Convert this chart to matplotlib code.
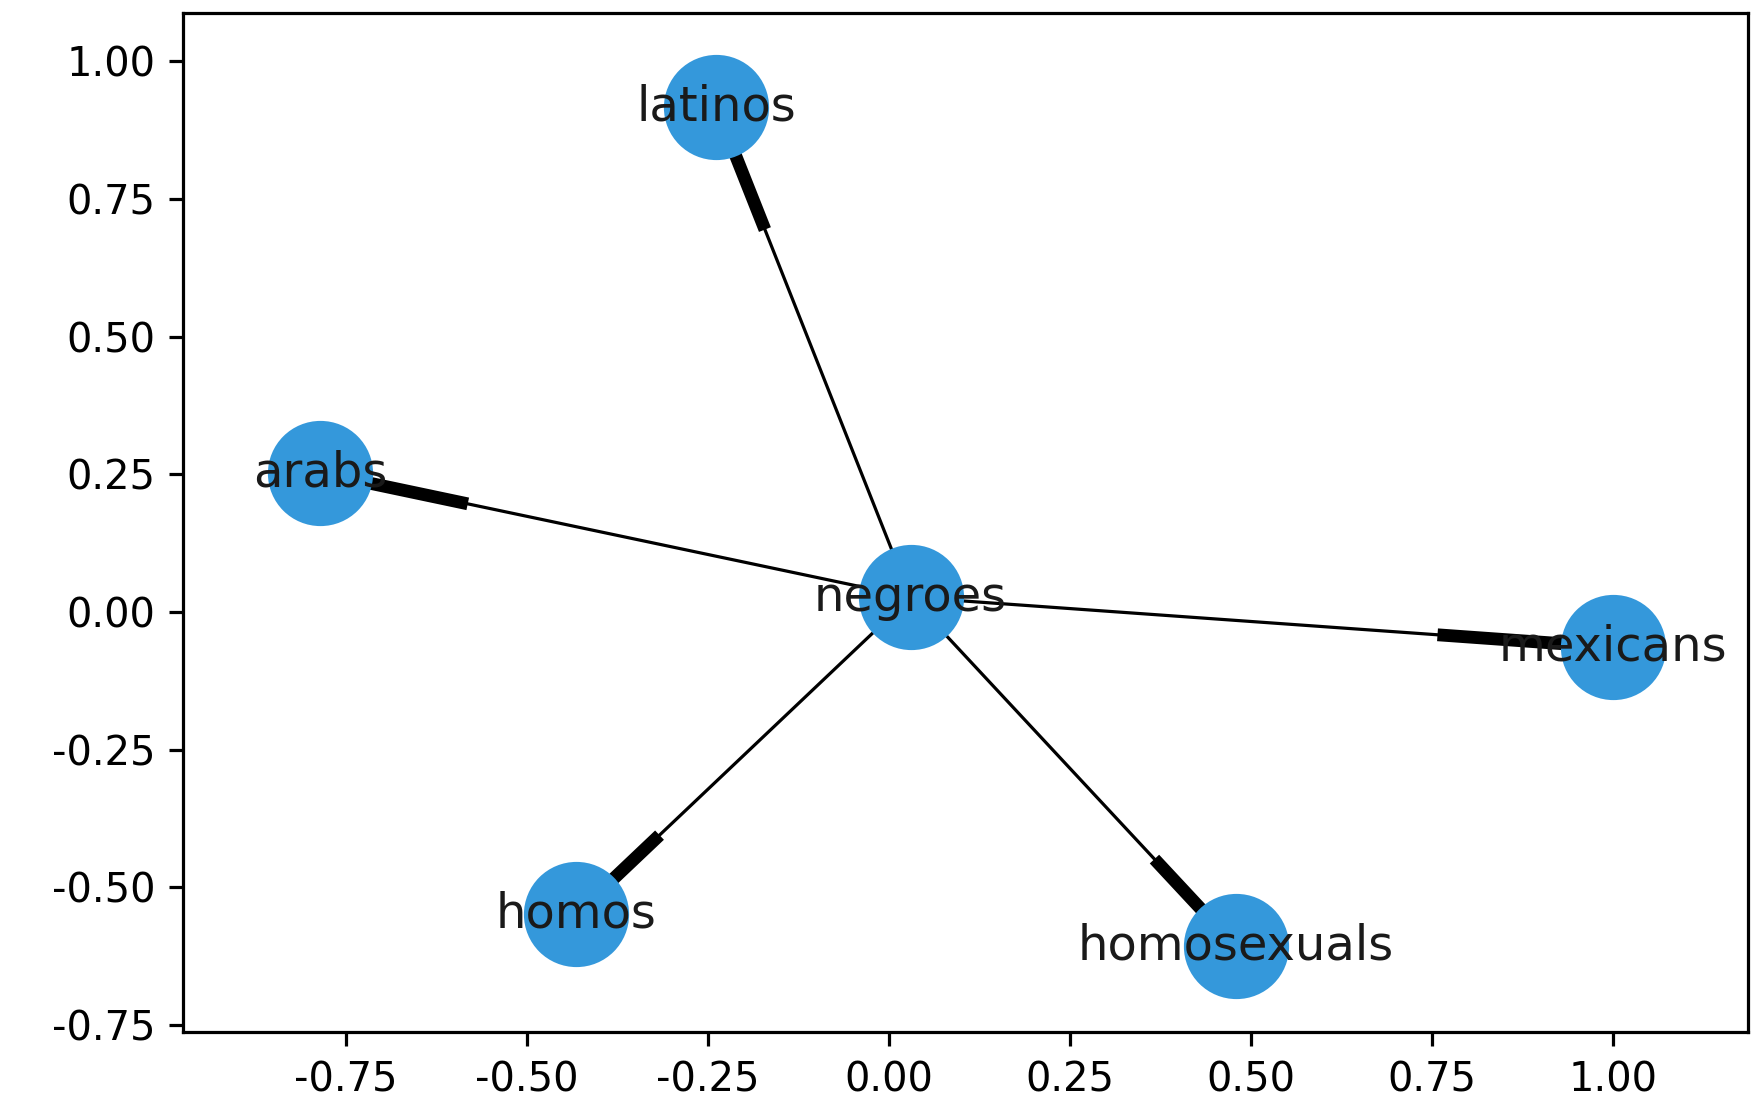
import matplotlib
matplotlib.use("Agg")
import matplotlib.pyplot as plt

# node layout
nodes = ["negroes", "latinos", "arabs", "mexicans", "homos", "homosexuals"]
xs = [0.03, -0.238, -0.785, 1.0, -0.432, 0.479]
ys = [0.027, 0.917, 0.253, -0.064, -0.549, -0.607]
edges = [("negroes", t) for t in nodes[1:]]

pos = {n: (x, y) for n, x, y in zip(nodes, xs, ys)}

fig = plt.figure(figsize=(1762 / 288, 1116 / 288), dpi=288)
ax = fig.add_axes([0.104, 0.075, 0.888, 0.913])

for s, t in edges:
    (x0, y0), (x1, y1) = pos[s], pos[t]
    ax.plot([x0, x1], [y0, y1], color="black", lw=0.8, zorder=1)
    # old-style networkx arrow: thick stub near the target
    xm, ym = x0 + 0.75 * (x1 - x0), y0 + 0.75 * (y1 - y0)
    ax.plot([xm, x1], [ym, y1], color="black", lw=3.2, zorder=1, solid_capstyle="butt")

ax.scatter(xs, ys, s=640, color="#3498db", zorder=2)
for n in nodes:
    ax.text(pos[n][0], pos[n][1], n, fontsize=12, ha="center", va="center", color="#1a1a1a", zorder=3)

ax.set_xlim(-0.974, 1.186)
ax.set_ylim(-0.763, 1.087)
ax.set_xticks([-0.75, -0.5, -0.25, 0, 0.25, 0.5, 0.75, 1.0])
ax.set_yticks([-0.75, -0.5, -0.25, 0, 0.25, 0.5, 0.75, 1.0])
ax.xaxis.set_major_formatter(matplotlib.ticker.FormatStrFormatter("%.2f"))
ax.yaxis.set_major_formatter(matplotlib.ticker.FormatStrFormatter("%.2f"))
ax.tick_params(labelsize=10)

fig.savefig("out.png", dpi=288)
